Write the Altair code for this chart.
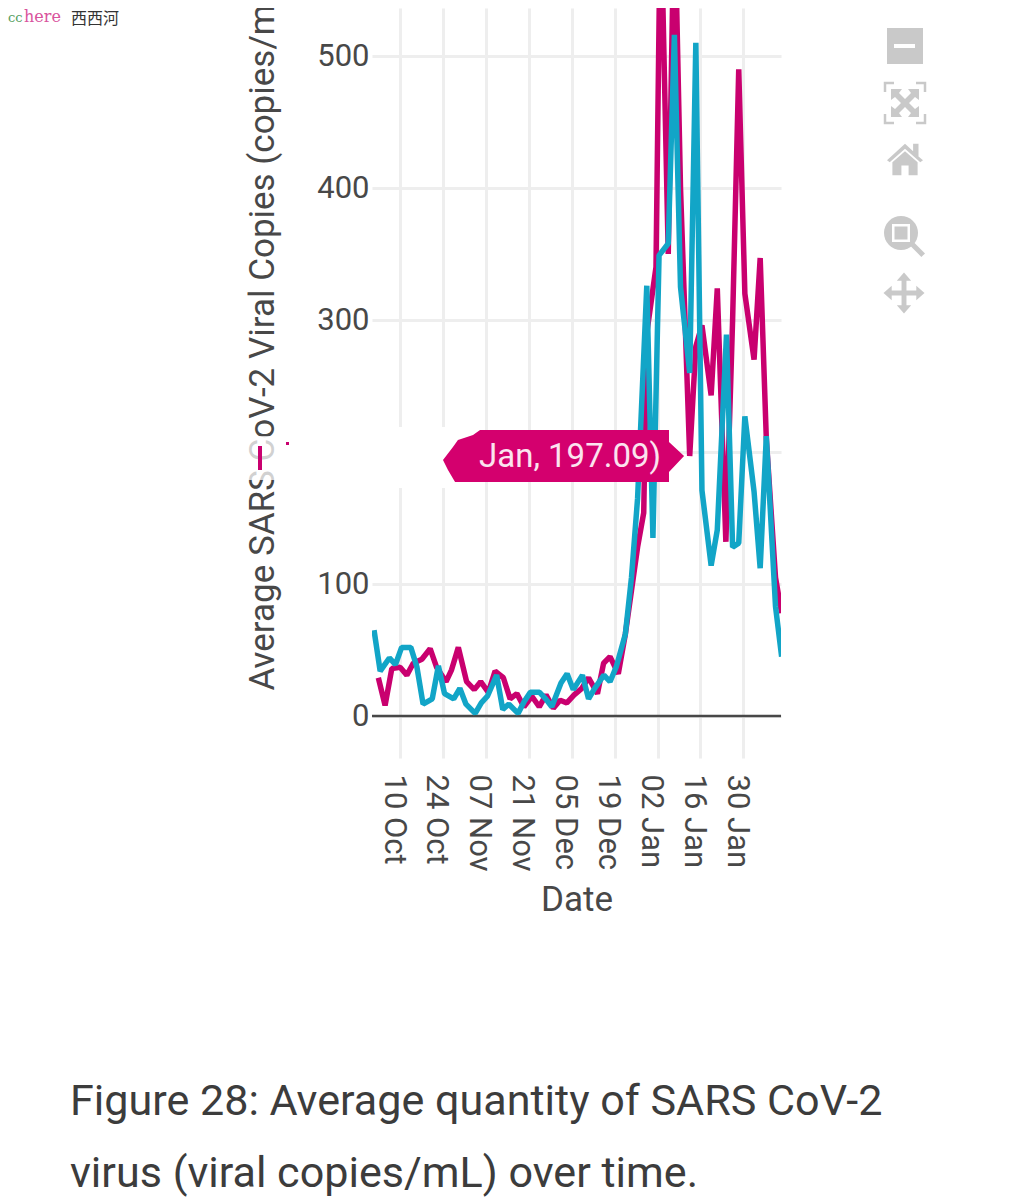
import altair as alt
import pandas as pd

start = pd.Timestamp("2020-10-01 12:00")

blue_days = [0,2,5,7,9,12,14,16,19,21,23,26,28,30,33,35,37,40,42,44,47,49,51,54,56,58,61,63,65,68,70,72,75,77,79,
             82,84,86,89,91,93,96,98,100,103,105,107,110,112,115,117,119,121,124,126,128,131,133]
blue_vals = [65,34,44,39,52,52,37,9,13,38,17,13,21,9,2,10,15,31,5,9,2,11,18,18,13,7,25,32,20,31,13,21,31,26,37,
             62,105,165,326,135,349,358,516,325,260,510,171,114,141,289,128,131,227,170,112,212,83,45]
pink_days = [1.4,3.6,5.8,8.5,10.7,12.8,15.6,18.3,20.4,23.5,25.3,27.5,30.2,32.7,34.8,37.3,39.5,42.2,44.4,46.6,48.9,
             51.5,53.9,56.1,58.5,60.7,62.9,65.3,67.8,70,72.9,74.9,77,79.7,
             82,84,86,88,89,92,93.5,96,98,100,103,105,107,110,112,114.8,117,119,121,124,126,128,131,133]
pink_vals = [29,8,36,37,31,40,43,51,37,26,35,52,26,20,26,18,34,29,13,17,7,15,7,16,6,12,10,16,21,29,17,40,45,32,
             62,95,128,154,290,340,620,350,620,400,197,280,296,243,324,132,300,490,320,270,347,210,105,78]
y_ticks = [0,100,200,300,400,500]
x_ticks = [(2020,"Oct",10),(2020,"Oct",24),(2020,"Nov",7),(2020,"Nov",21),(2020,"Dec",5),(2020,"Dec",19),
           (2021,"Jan",2),(2021,"Jan",16),(2021,"Jan",30)]

BLUE, PINK, INK, GRID, ICON = "#12a5c7", "#c9006f", "#484848", "#eeeeee", "#c9c9c9"
TIP = "#d4006e"

def frame(days, vals):
    return pd.DataFrame({"date": start + pd.to_timedelta(days, unit="D"), "value": vals})

one = pd.DataFrame({"a": [0]})
px = lambda v: v - 372
py = lambda v: v - 8

xscale = alt.Scale(domain=[alt.DateTime(year=2020, month="Sep", date=30, hours=20),
                           alt.DateTime(year=2021, month="Feb", date=11, hours=7)])
yscale = alt.Scale(domain=[-31.8, 536.4], nice=False, zero=False)

xaxis = alt.Axis(values=[alt.DateTime(year=y, month=m, date=d) for y, m, d in x_ticks], format="%d %b",
                 labelAngle=90, labelFontSize=31, labelColor=INK, labelFont="Roboto", labelPadding=16,
                 labelOffset=-7, tickSize=0, domain=False, grid=True, gridColor=GRID, gridWidth=3,
                 title="Date", titleFontSize=35, titleFont="Roboto", titleFontWeight="normal", titleColor=INK,
                 titlePadding=11, labelOverlap=False)
yaxis = alt.Axis(values=y_ticks, labelFontSize=31, labelColor=INK, labelFont="Roboto", labelPadding=3,
                 tickSize=0, domain=False, grid=True, gridColor=GRID, gridWidth=3,
                 title="Average SARS CoV-2 Viral Copies (copies/mL)", titleFontSize=35, titleFont="Roboto",
                 titleFontWeight="normal", titleColor=INK, titleAngle=270, titleAlign="left",
                 titleBaseline="middle", titleX=px(262), titleY=py(690))

def series(days, vals, color):
    x = alt.X("date:T", scale=xscale, axis=xaxis)
    y = alt.Y("value:Q", scale=yscale, axis=yaxis)
    return alt.Chart(frame(days, vals)).mark_line(color=color, strokeWidth=5.5, clip=True, strokeJoin="bevel").encode(x=x, y=y)

def rect(x0, x1, y0, y1, color, opacity=1):
    return alt.Chart(one).mark_rect(color=color, opacity=opacity).encode(
        x=alt.value(px(x0)), x2=alt.value(px(x1)), y=alt.value(py(y0)), y2=alt.value(py(y1)))

def glyph(cx, cy, span, shape, color=ICON, stroke=None):
    if stroke:
        mark = alt.Chart(one).mark_point(shape=shape, size=span**2, filled=False, stroke=color, strokeWidth=stroke, opacity=1)
    else:
        mark = alt.Chart(one).mark_point(shape=shape, size=span**2, filled=True, fill=color, strokeWidth=0, opacity=1)
    return mark.encode(x=alt.value(px(cx)), y=alt.value(py(cy)))

def text(s, x, y, size, color=INK, font="Roboto", **kw):
    return alt.Chart(one).mark_text(text=s, fontSize=size, font=font, color=color, align="left",
                                    baseline="alphabetic", **kw).encode(x=alt.value(px(x)), y=alt.value(py(y)))

zero = alt.Chart(pd.DataFrame({"value": [0]})).mark_rule(color=INK, strokeWidth=2.5).encode(
    y=alt.Y("value:Q", scale=yscale, axis=yaxis))

TIP_SHAPE = ("M-0.695,-0.214 L-0.753,-0.173 L-0.802,-0.156 L-0.877,-0.132 L-0.918,-0.074 L-1,0.033 "
             "L-0.959,0.115 L-0.901,0.214 L0.86,0.214 L0.86,0.132 L0.984,0 L0.86,-0.115 L0.86,-0.214 Z")
AUTO_X = ("M-.7,-.7 L-.15,-.7 L-.3,-.5 L0,-.2 L.3,-.5 L.15,-.7 L.7,-.7 L.7,-.15 L.5,-.3 L.2,0 L.5,.3 L.7,.15 "
          "L.7,.7 L.15,.7 L.3,.5 L0,.2 L-.3,.5 L-.15,.7 L-.7,.7 L-.7,.15 L-.5,.3 L-.2,0 L-.5,-.3 L-.7,-.15 Z")
AUTO_C = ("M-1,-.55 L-1,-1 L-.55,-1 M.55,-1 L1,-1 L1,-.55 M1,.55 L1,1 L.55,1 M-.55,1 L-1,1 L-1,.55")
HOME = ("M-1,.02 L0,-.9 L.45,-.48 L.45,-.9 L.75,-.9 L.75,-.2 L1,.02 L.85,.12 L0,-.62 L-.85,.12 Z "
        "M-.7,.12 L0,-.48 L.7,.12 L.7,.85 L.2,.85 L.2,.3 L-.2,.3 L-.2,.85 L-.7,.85 Z")
PAN = ("M0,-1 L.35,-.6 L.12,-.6 L.12,-.12 L.6,-.12 L.6,-.35 L1,0 L.6,.35 L.6,.12 L.12,.12 L.12,.6 L.35,.6 L0,1 "
       "L-.35,.6 L-.12,.6 L-.12,.12 L-.6,.12 L-.6,.35 L-1,0 L-.6,-.35 L-.6,-.12 L-.12,-.12 L-.12,-.6 L-.35,-.6 Z")
HANDLE = "M-1,-.55 L-.55,-1 L1,.55 L.55,1 Z"

layers = [
    zero,
    series(pink_days, pink_vals, PINK),
    series(blue_days, blue_vals, BLUE),
    # erased patch left of the label
    rect(300, 458, 427, 488, "#ffffff"),
    rect(245, 300, 436, 480, "#ffffff", 0.75),
    rect(258, 262, 446, 470, PINK),
    rect(286, 289, 442, 445, PINK),
    # hover label
    glyph(564.5, 456, 243, TIP_SHAPE, TIP),
    text("Jan, 197.09)", 479, 467, 33, "#fbe3ef"),
    # mode bar
    rect(887, 923, 28, 64, ICON),
    rect(894, 915, 44, 48, "#ffffff"),
    glyph(905, 103, 40, AUTO_C, ICON, 2.5),
    glyph(905, 103, 40, AUTO_X),
    glyph(905, 160, 36, HOME),
    glyph(901, 233, 34, "circle"),
    glyph(901, 233, 18, "square", "#ffffff"),
    glyph(901, 233, 13, "square"),
    glyph(917, 249, 16, HANDLE),
    glyph(904, 293, 41, PAN),
    # caption
    text("Figure 28: Average quantity of SARS CoV-2", 70, 1115, 43.1, "#3c3c3c"),
    text("virus (viral copies/mL) over time.", 70, 1187, 43.1, "#3c3c3c"),
    # watermark
    text("cc", 8, 22, 13, "#55a060", "DejaVu Serif"),
    text("here", 24, 22, 16, "#d9539d", "DejaVu Serif"),
    text("西西河", 71, 24, 16, "#333333", "Noto Sans CJK SC"),
]

chart = alt.layer(*layers).properties(
    width=409, height=750,
    padding={"left": 364, "top": 0, "right": 218, "bottom": 440},
    autosize=alt.AutoSizeParams(type="none"),
    background="#ffffff",
).configure_view(stroke=None)

chart.save("out.html", embed_options={"renderer": "svg", "actions": False})
